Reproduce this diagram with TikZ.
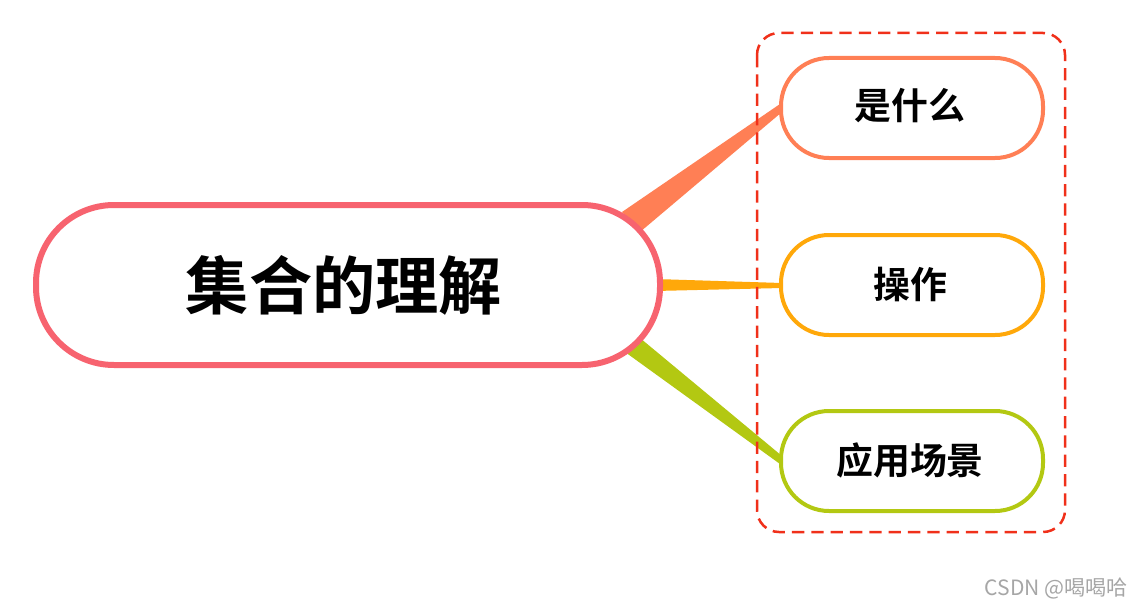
\documentclass[tikz,border=0pt]{standalone}
\usepackage{fontspec}
\newfontfamily\cjk{Noto Sans CJK SC}[BoldFont={Noto Sans CJK SC Bold}]
\definecolor{cmain}{HTML}{F7636F}
\definecolor{cone}{HTML}{FF7F55}
\definecolor{ctwo}{HTML}{FFA80A}
\definecolor{cthree}{HTML}{B3C812}
\definecolor{cdash}{HTML}{F0301A}
\begin{document}
\begin{tikzpicture}[x=0.02cm,y=-0.02cm,
  pill/.style={rounded corners=48*0.02cm, fill=white, line width=4*0.02cm}]
\useasboundingbox (0,0) rectangle (1138,608);
% connectors (tapered)
\fill[cone] (622,212) -- (640,232) -- (782,112) -- (780,104) -- cycle;
\fill[ctwo] (655,279) -- (655,291) -- (782,288) -- (782,283) -- cycle;
\fill[cthree] (625,352) -- (640,338) -- (782,456) -- (780,464) -- cycle;
% dashed box
\draw[cdash, line width=2.5*0.02cm, dash pattern=on 7pt off 4pt, rounded corners=22*0.02cm] (757,33) rectangle (1065,532);
% main node
\draw[pill, draw=cmain, line width=6*0.02cm, rounded corners=78*0.02cm] (36,205) rectangle (660,365);
\node (main) at (344,285) {\cjk\bfseries\fontsize{36}{40}\selectfont 集合的理解};
% children
\draw[pill, draw=cone] (781,58) rectangle (1043,158);
\node (a) at (910,106) {\cjk\bfseries\fontsize{21}{24}\selectfont 是什么};
\draw[pill, draw=ctwo] (781,235) rectangle (1043,335);
\node (b) at (910,284) {\cjk\bfseries\fontsize{21}{24}\selectfont 操作};
\draw[pill, draw=cthree] (781,411) rectangle (1043,511);
\node (c) at (910,460) {\cjk\bfseries\fontsize{21}{24}\selectfont 应用场景};
% watermark
\node[anchor=east, text=gray!70] (wm) at (1134,588) {\cjk\fontsize{12}{14}\selectfont CSDN @喝喝哈};
\end{tikzpicture}
\end{document}
